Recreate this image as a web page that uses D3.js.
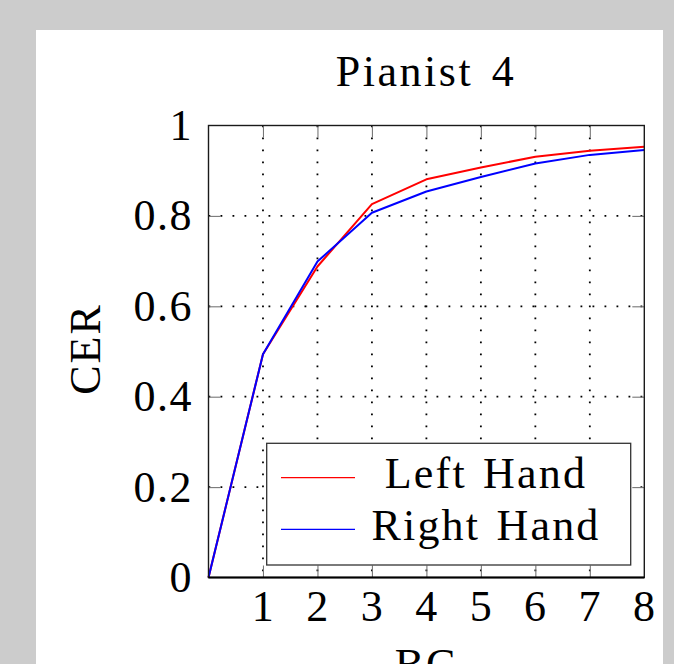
<!DOCTYPE html>
<html>
<head>
<meta charset="utf-8">
<script src="https://cdn.jsdelivr.net/npm/d3@7"></script>
<style>
  html, body { margin: 0; padding: 0; background: #cccccc; }
  svg { display: block; }
  text { font-family: "Liberation Serif", "Times New Roman", serif; fill: #000; }
</style>
</head>
<body>
<svg id="chart" width="674" height="664"></svg>
<script>
// ---- data ----
const title = "Pianist 4";
const xLabel = "BC";
const yLabel = "CER";
const bcValues = [0, 1, 2, 3, 4, 5, 6, 7, 8];
const leftHand = [0, 0.494, 0.688, 0.826, 0.881, 0.907, 0.931, 0.944, 0.953];
const rightHand = [0, 0.494, 0.699, 0.807, 0.854, 0.886, 0.916, 0.935, 0.946];
const seriesNames = ["Left Hand", "Right Hand"];
const seriesColors = ["#ff0000", "#0000ff"];
const xTickValues = [1, 2, 3, 4, 5, 6, 7, 8];
const yTickValues = [0, 0.2, 0.4, 0.6, 0.8, 1];
const yTickLabels = ["0", "0.2", "0.4", "0.6", "0.8", "1"];

// ---- layout ----
const svg = d3.select("#chart");
const plot = { left: 208.5, right: 644.3, top: 125.5, bottom: 577.5 };
const FS = 44;

svg.append("rect").attr("x", 36).attr("y", 30).attr("width", 627).attr("height", 640).attr("fill", "#ffffff");

const x = d3.scaleLinear().domain([0, 8]).range([plot.left, plot.right]);
const y = d3.scaleLinear().domain([0, 1]).range([plot.bottom, plot.top]);

const innerX = xTickValues.filter(v => v > 0 && v < 8);
const innerY = yTickValues.filter(v => v > 0 && v < 1);

// grid
const grid = svg.append("g").attr("stroke", "#000").attr("stroke-width", 1.8)
  .attr("stroke-dasharray", "1.8,10.2").attr("fill", "none");
grid.selectAll("line.v").data(innerX).join("line").attr("class", "v")
  .attr("x1", d => x(d)).attr("x2", d => x(d)).attr("y1", plot.top).attr("y2", plot.bottom);
grid.selectAll("line.h").data(innerY).join("line").attr("class", "h")
  .attr("x1", plot.left).attr("x2", plot.right).attr("y1", d => y(d)).attr("y2", d => y(d));

// axes
function styleAxis(g) {
  g.select(".domain").remove();
  g.selectAll(".tick line").attr("stroke", "#777").attr("stroke-width", 1.1);
  g.selectAll(".tick text").style("font-size", FS + "px").attr("fill", "#000")
    .style("font-family", '"Liberation Serif", serif').style("letter-spacing", "1.5px");
}
const TL = 12;
const gB = svg.append("g").attr("transform", `translate(0,${plot.bottom})`)
  .call(d3.axisBottom(x).tickValues(xTickValues).tickSize(-TL).tickPadding(12).tickFormat(d3.format("d")));
styleAxis(gB);
gB.selectAll(".tick").filter(d => d === 8).select("line").remove();

const gT = svg.append("g").attr("transform", `translate(0,${plot.top})`)
  .call(d3.axisTop(x).tickValues(innerX).tickSize(-TL).tickFormat(""));
styleAxis(gT);

const gL = svg.append("g").attr("transform", `translate(${plot.left},0)`)
  .call(d3.axisLeft(y).tickValues(yTickValues).tickSize(-TL).tickPadding(15.5)
    .tickFormat((d, i) => yTickLabels[i]));
styleAxis(gL);
gL.selectAll(".tick").filter(d => d === 0 || d === 1).select("line").remove();

const gR = svg.append("g").attr("transform", `translate(${plot.right},0)`)
  .call(d3.axisRight(y).tickValues(innerY).tickSize(-TL).tickFormat(""));
styleAxis(gR);

// lines
const line = d3.line().x((d, i) => x(bcValues[i])).y(d => y(d));
[leftHand, rightHand].forEach((s, k) => {
  svg.append("path").datum(s).attr("d", line).attr("fill", "none")
    .attr("stroke", seriesColors[k]).attr("stroke-width", 2).attr("stroke-linejoin", "round");
});

// frame
svg.append("rect").attr("x", plot.left).attr("y", plot.top)
  .attr("width", plot.right - plot.left).attr("height", plot.bottom - plot.top)
  .attr("fill", "none").attr("stroke", "#1a1a1a").attr("stroke-width", 1.4);
svg.append("line").attr("x1", plot.left).attr("x2", plot.right)
  .attr("y1", plot.bottom).attr("y2", plot.bottom).attr("stroke", "#000").attr("stroke-width", 2.2);

// legend
const lg = svg.append("g");
lg.append("rect").attr("x", 266.7).attr("y", 443.3).attr("width", 364).attr("height", 121.7)
  .attr("fill", "#fff").attr("stroke", "#333").attr("stroke-width", 1.3);
seriesNames.forEach((name, k) => {
  const yy = 477.7 + k * 51.6;
  lg.append("line").attr("x1", 281).attr("x2", 355).attr("y1", yy).attr("y2", yy)
    .attr("stroke", seriesColors[k]).attr("stroke-width", 1.3);
  lg.append("text").attr("x", 486).attr("y", yy + 10.5).attr("text-anchor", "middle")
    .style("font-size", FS + "px").style("letter-spacing", "2.2px").style("word-spacing", "3px").text(name);
});

// titles
svg.append("text").attr("x", 426).attr("y", 86).attr("text-anchor", "middle")
  .style("font-size", FS + "px").style("letter-spacing", "2.5px").style("word-spacing", "5px").text(title);
svg.append("text").attr("transform", "translate(100,349) rotate(-90)").attr("text-anchor", "middle")
  .style("font-size", FS + "px").style("letter-spacing", "2px").text(yLabel);
svg.append("text").attr("x", 426).attr("y", 679).attr("text-anchor", "middle")
  .style("font-size", FS + "px").style("letter-spacing", "2px").text(xLabel);
</script>
</body>
</html>
